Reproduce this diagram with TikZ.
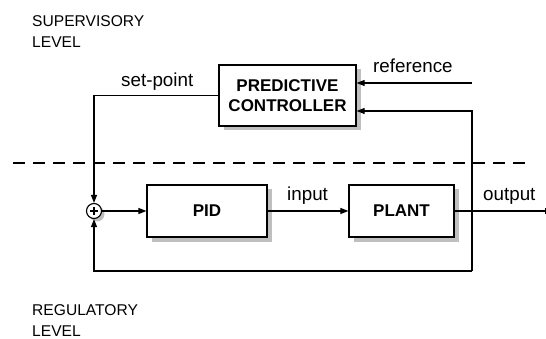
\documentclass[tikz,border=0pt]{standalone}
\usepackage{fontspec}
\setmainfont{Liberation Sans}
\usetikzlibrary{arrows.meta,shadows}

\tikzset{
  blk/.style={draw, line width=1.3pt, fill=white, font=\fontsize{17}{20}\selectfont\bfseries,
    align=center, inner sep=0pt,
    drop shadow={shadow xshift=4.5pt, shadow yshift=-4.5pt, fill=black!25, opacity=1}},
  sumnode/.style={circle, draw, line width=1.1pt, fill=white, minimum size=15pt, inner sep=0pt,
    drop shadow={shadow xshift=3pt, shadow yshift=-3pt, fill=black!25, opacity=1}},
  wire/.style={line width=1.1pt},
  arr/.style={wire, -{Triangle[length=8pt, width=6pt]}},
  lbl/.style={anchor=base west, inner sep=0pt, font=\fontsize{18.8}{20}\selectfont},
  lvl/.style={anchor=base west, inner sep=0pt, text depth=0pt, font=\fontsize{15.6}{20}\selectfont},
}

\begin{document}
\begin{tikzpicture}[x=1pt, y=-1pt]
\useasboundingbox (0,0) rectangle (546,339);

% level labels
\node[lvl] (suplbl) at (32,26.5) {SUPERVISORY};
\node[lvl] (suplvl) at (32,48) {LEVEL};
\node[lvl] (reglbl) at (32,315) {REGULATORY};
\node[lvl] (reglvl) at (32,336.5) {LEVEL};

% boundary between the two levels
\draw[line width=1.1pt, dash pattern=on 12pt off 8pt] (13,163) -- (527,163);

% blocks
\node[blk, minimum width=137pt, minimum height=61pt] (pc) at (287.5,95.5) {PREDICTIVE\\CONTROLLER};
\node[blk, minimum width=120pt, minimum height=52pt] (pid) at (207,211) {PID};
\node[blk, minimum width=105pt, minimum height=52pt] (plant) at (401.5,211) {PLANT};
\node[sumnode] (sum) at (94,211) {};
\draw[line width=1.1pt] ([xshift=-4pt]sum.center) -- ([xshift=4pt]sum.center)
  ([yshift=-4pt]sum.center) -- ([yshift=4pt]sum.center);

% connection points
\coordinate (refin) at (472,83);
\coordinate (fbtop) at (472,111);
\coordinate (fbbot) at (472,271);
\coordinate (out) at (546,211);

% signals
\draw[arr] (pc.west) -| (sum.north);
\draw[arr] (refin) -- (refin -| pc.east);
\draw[arr] (sum) -- (pid);
\draw[arr] (pid) -- (plant);
\draw[wire] (plant) -- (out);
\draw[wire] (out) ++(0,-3) -- ++(0,6);
\draw[arr] (fbbot) -- (fbtop) -- (fbtop -| pc.east);
\draw[arr] (fbbot) -| (sum.south);

% signal names
\node[lbl] (splbl) at (121,87) {set-point};
\node[lbl] (reflbl) at (373,72.5) {reference};
\node[lbl] (inlbl) at (287,200.5) {input};
\node[lbl] (outlbl) at (483,201) {output};
\end{tikzpicture}
\end{document}
